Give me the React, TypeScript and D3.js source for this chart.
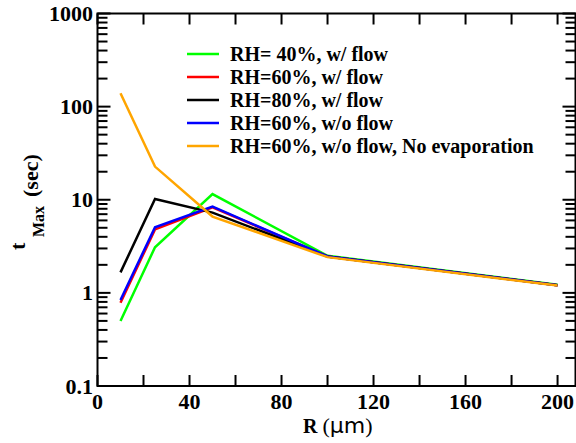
import React from "react";
import * as d3 from "d3";

const R_VALUES = [10, 25, 50, 100, 200];
const SERIES_NAMES = [
  "RH= 40%, w/ flow",
  "RH=60%, w/ flow",
  "RH=80%, w/ flow",
  "RH=60%, w/o flow",
  "RH=60%, w/o flow, No evaporation",
];
const SERIES_COLORS = ["#00ff00", "#ff0000", "#000000", "#0000ff", "#ffa500"];
const RH40_FLOW = [0.5, 3.09, 11.5, 2.5, 1.22];
const RH60_FLOW = [0.785, 4.8, 8.3, 2.46, 1.21];
const RH80_FLOW = [1.66, 10.2, 7.27, 2.46, 1.21];
const RH60_NOFLOW = [0.84, 5.07, 8.43, 2.46, 1.21];
const RH60_NOEVAP = [139, 22.7, 6.6, 2.42, 1.2];
const SERIES_VALUES = [RH40_FLOW, RH60_FLOW, RH80_FLOW, RH60_NOFLOW, RH60_NOEVAP];

const X_TICKS = [0, 20, 40, 60, 80, 100, 120, 140, 160, 180, 200];
const X_LABELS = [0, 40, 80, 120, 160, 200];
const Y_MAJOR = [0.1, 1, 10, 100, 1000];
const Y_LABELS = ["0.1", "1", "10", "100", "1000"];

const W = 576;
const H = 443;
const L = 97.5;
const Rr = 575.5;
const T = 13.5;
const B = 386;

const SERIF = "Liberation Serif, DejaVu Serif, serif";

export default function App() {
  const x = d3.scaleLinear().domain([0, 207.8]).range([L, Rr]);
  const y = d3.scaleLog().domain([0.1, 1000]).range([B, T]);
  const line = d3
    .line<[number, number]>()
    .x((d) => x(d[0]))
    .y((d) => y(d[1]));

  const minor: number[] = [];
  for (let e = -1; e < 3; e++) {
    for (let k = 2; k <= 9; k++) minor.push(k * Math.pow(10, e));
  }

  const bold = { fontFamily: SERIF, fontWeight: 700 } as React.CSSProperties;

  return (
    <svg
      width={W}
      height={H}
      style={{ position: "absolute", left: 0, top: 0, background: "#fff" }}
    >
      <rect x={0} y={0} width={W} height={H} fill="#fff" />
      <g fill="none" strokeWidth={2.5}>
        {SERIES_VALUES.map((vals, i) => (
          <path
            key={i}
            d={line(R_VALUES.map((r, j) => [r, vals[j]] as [number, number])) || ""}
            stroke={SERIES_COLORS[i]}
          />
        ))}
      </g>
      <rect
        x={L}
        y={T}
        width={Rr - L}
        height={B - T}
        fill="none"
        stroke="#000"
        strokeWidth={2}
      />
      <g stroke="#000" strokeWidth={2}>
        {X_TICKS.map((t) => (
          <g key={t}>
            <line x1={x(t)} x2={x(t)} y1={B} y2={B - 11} />
            <line x1={x(t)} x2={x(t)} y1={T} y2={T + 11} />
          </g>
        ))}
        {Y_MAJOR.map((t) => (
          <g key={t}>
            <line x1={L} x2={L + 13} y1={y(t)} y2={y(t)} />
            <line x1={Rr} x2={Rr - 13} y1={y(t)} y2={y(t)} />
          </g>
        ))}
        {minor.map((t) => (
          <g key={t}>
            <line x1={L} x2={L + 10} y1={y(t)} y2={y(t)} />
            <line x1={Rr} x2={Rr - 10} y1={y(t)} y2={y(t)} />
          </g>
        ))}
      </g>
      <g style={{ ...bold, fontSize: 22 }} fill="#000">
        {X_LABELS.map((t) => (
          <text key={t} x={x(t)} y={409} textAnchor="middle">
            {t}
          </text>
        ))}
        {Y_MAJOR.map((t, i) => (
          <text key={t} x={93} y={y(t) + 7.5} textAnchor="end">
            {Y_LABELS[i]}
          </text>
        ))}
      </g>
      <text x={303} y={433} style={{ fontFamily: SERIF, fontSize: 20 }} fill="#000">
        <tspan style={{ fontWeight: 700 }}>R</tspan>
        <tspan dx={5} style={{ fontSize: 22 }}>(</tspan>
        <tspan style={{ fontSize: 22, fontFamily: "DejaVu Sans, sans-serif" }}>μm</tspan>
        <tspan style={{ fontSize: 22 }}>)</tspan>
      </text>
      <g transform="rotate(-90)" style={bold} fill="#000">
        <text x={-250} y={25} style={{ fontSize: 22 }}>t</text>
        <text x={-237} y={44} style={{ fontSize: 16 }}>Max</text>
        <text x={-197} y={38} style={{ fontSize: 22 }}>(sec)</text>
      </g>
      <g style={{ ...bold, fontSize: 20 }} fill="#000">
        {SERIES_NAMES.map((name, i) => {
          const cy = 54 + i * 23;
          return (
            <g key={name}>
              <line
                x1={187}
                x2={219}
                y1={cy}
                y2={cy}
                stroke={SERIES_COLORS[i]}
                strokeWidth={2.5}
              />
              <text x={230} y={cy + 7}>
                {name}
              </text>
            </g>
          );
        })}
      </g>
    </svg>
  );
}
